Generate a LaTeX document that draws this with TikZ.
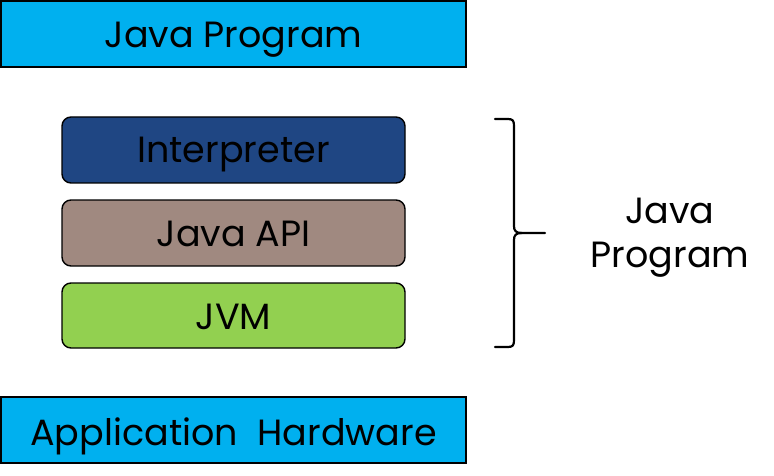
\documentclass[tikz,border=0pt]{standalone}
\usepackage{fontspec}
\setmainfont{Poppins}
\begin{document}
\begin{tikzpicture}[x=1pt,y=-1pt,
  flatbox/.style={draw=black,line width=1.6pt,fill=cyanbox,inner sep=0pt},
  layer/.style={draw=black,line width=1.4pt,rounded corners=9pt,inner sep=0pt},
  lbl/.style={font=\fontsize{36.5}{44}\selectfont,anchor=base,inner sep=0pt}]
\definecolor{cyanbox}{HTML}{00B0EF}
\definecolor{interp}{HTML}{1F4683}
\definecolor{japi}{HTML}{A08980}
\definecolor{jvm}{HTML}{92D050}
\useasboundingbox (0,0) rectangle (774,476);
\draw[flatbox] (1,1) rectangle (466,67);
\node[lbl] (top) at (233.5,48) {Java Program};
\draw[layer,fill=interp] (62,117) rectangle (405,183);
\node[lbl] (interp) at (233.5,163) {Interpreter};
\draw[layer,fill=japi] (62,200) rectangle (405,266);
\node[lbl] (api) at (233.5,246) {Java API};
\draw[layer,fill=jvm] (62,283) rectangle (405,348);
\node[lbl] (jvm) at (233.5,329) {JVM};
\draw[flatbox] (1,397) rectangle (466,463);
\node[lbl] (hw) at (233.5,445) {Application\ \ Hardware};
\draw[line width=2.2pt,line cap=round] (495,119) -- (508,119) .. controls (513,119) and (514,121) .. (514,126)
  -- (514,226) .. controls (514,231) and (516,233) .. (522,233) -- (545,233);
\draw[line width=2.2pt,line cap=round] (495,347) -- (508,347) .. controls (513,347) and (514,345) .. (514,340)
  -- (514,240) .. controls (514,235) and (516,233) .. (522,233);
\node[lbl] (side1) at (670,223) {Java};
\node[lbl] (side2) at (670,267) {Program};
\end{tikzpicture}
\end{document}
